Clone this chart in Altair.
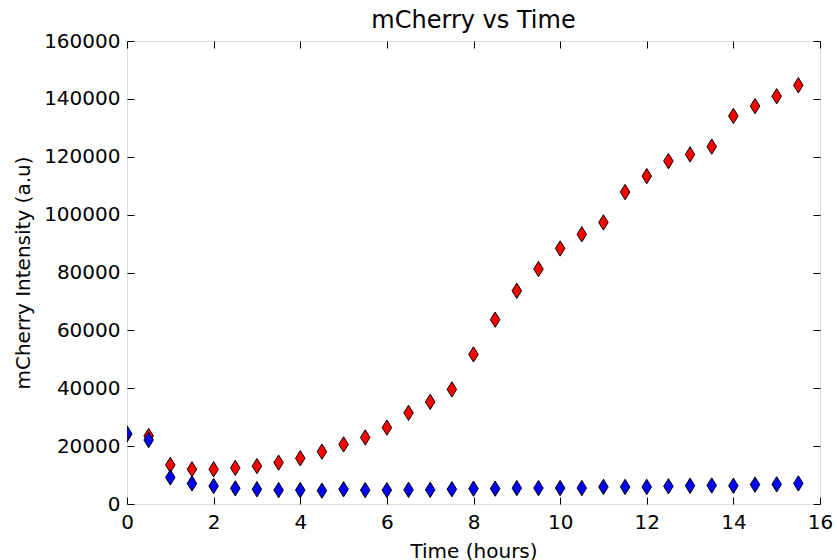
import altair as alt
import pandas as pd

# Data
time_hours = [0.0, 0.5, 1.0, 1.5, 2.0, 2.5, 3.0, 3.5, 4.0, 4.5, 5.0, 5.5, 6.0, 6.5, 7.0, 7.5,
              8.0, 8.5, 9.0, 9.5, 10.0, 10.5, 11.0, 11.5, 12.0, 12.5, 13.0, 13.5, 14.0, 14.5, 15.0, 15.5]
red_values = [24000, 23500, 13500, 12000, 12000, 12500, 13100, 14300, 15800, 18100, 20600, 23000,
              26400, 31500, 35300, 39600, 51700, 63700, 73700, 81200, 88300, 93200, 97300, 107800,
              113300, 118500, 120800, 123500, 134100, 137500, 140900, 144700]
blue_values = [24400, 22100, 9200, 7100, 6200, 5400, 5100, 4800, 4800, 4600, 5100, 4800,
               4800, 4900, 4900, 5100, 5300, 5300, 5500, 5500, 5500, 5500, 5900, 5900,
               5900, 6100, 6300, 6400, 6300, 6700, 6800, 7100]

x_ticks = [0, 2, 4, 6, 8, 10, 12, 14, 16]
y_ticks = [0, 20000, 40000, 60000, 80000, 100000, 120000, 140000, 160000]

red_df = pd.DataFrame({"t": time_hours, "v": red_values})
blue_df = pd.DataFrame({"t": time_hours, "v": blue_values})

FONT = "DejaVu Sans"
thin_diamond = "M0,-1L0.62,0L0,1L-0.62,0Z"

xs = alt.Scale(domain=[0, 16], nice=False, zero=False)
ys = alt.Scale(domain=[0, 160000], nice=False)

axis_common = dict(labelFont=FONT, titleFont=FONT, labelColor="black", titleColor="black",
                   grid=False, domain=False, tickColor="black", tickWidth=1, labelFlush=False)

x_main = alt.Axis(orient="bottom", values=x_ticks, format="d", tickSize=0, labelPadding=8,
                  labelFontSize=20, title="Time (hours)", titleFontSize=20, titleFontWeight="normal",
                  titlePadding=9, **axis_common)
y_main = alt.Axis(orient="left", values=y_ticks, format="d", tickSize=0, labelPadding=7,
                  labelFontSize=20, title="mCherry Intensity (a.u)", titleFontSize=20,
                  titleFontWeight="normal", titlePadding=10, **axis_common)

def tick_axis(orient, values):
    return alt.Axis(orient=orient, values=values, tickSize=7, offset=-7, labels=False,
                    title=None, **axis_common)

def points(df, fill, xa, ya, visible=True):
    return alt.Chart(df).mark_point(
        shape=thin_diamond, filled=True, fill=fill, stroke="black", strokeWidth=1,
        size=235, opacity=1 if visible else 0, clip=True
    ).encode(
        x=alt.X("t:Q", scale=xs, axis=xa),
        y=alt.Y("v:Q", scale=ys, axis=ya),
    )

red = points(red_df, "#ff0000", x_main, y_main)
blue = points(blue_df, "#0000ff", tick_axis("bottom", x_ticks), tick_axis("left", y_ticks))
frame_ticks = points(blue_df, "#0000ff", tick_axis("top", x_ticks), tick_axis("right", y_ticks), visible=False)

chart = alt.layer(red, blue, frame_ticks).resolve_axis(
    x="independent", y="independent"
).properties(
    width=693, height=463,
    title=alt.TitleParams("mCherry vs Time", font=FONT, fontSize=24, fontWeight="normal",
                          color="black", anchor="middle", offset=-2),
    autosize=alt.AutoSizeParams(type="none"),
    padding={"left": 127, "top": 41, "right": 17, "bottom": 56},
).configure_view(stroke="black", strokeWidth=1.2).configure(background="white")

chart.save("out.html", embed_options={"renderer": "svg", "actions": False})
